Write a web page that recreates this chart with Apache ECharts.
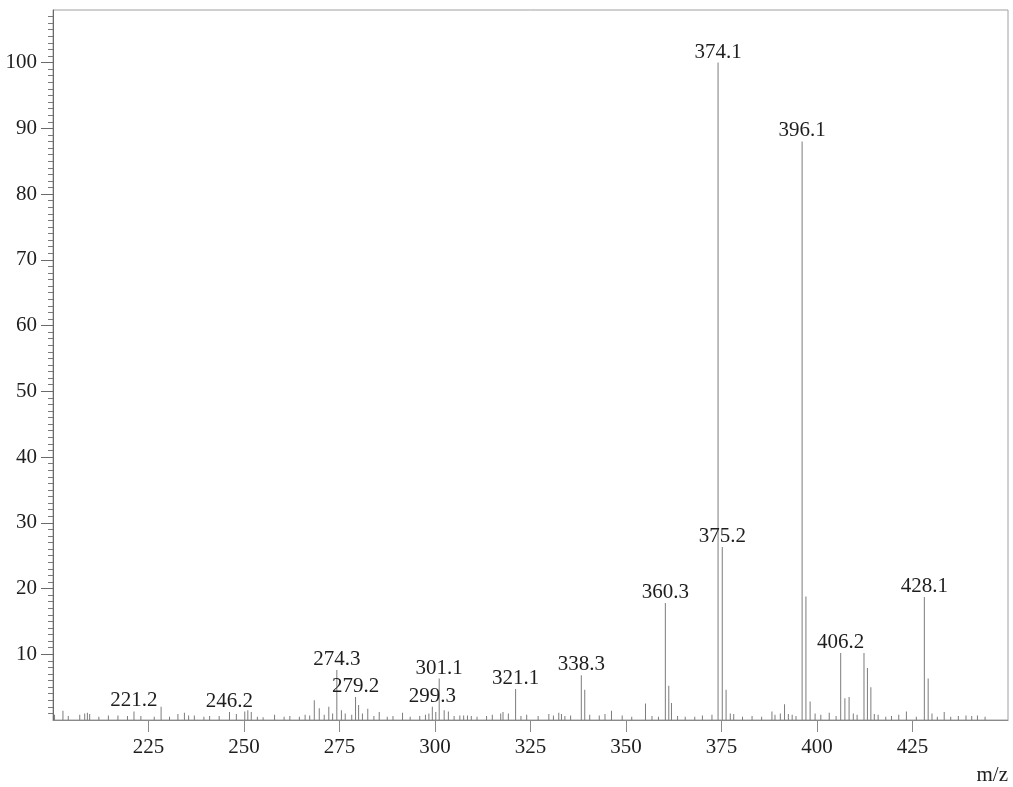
<!DOCTYPE html>
<html>
<head>
<meta charset="utf-8">
<title>Mass spectrum</title>
<script src="https://cdn.jsdelivr.net/npm/echarts@6/dist/echarts.min.js"></script>
<style>
  html, body { margin: 0; padding: 0; background: #ffffff; }
  #chart { width: 1013px; height: 787px; }
</style>
</head>
<body>
<div id="chart"></div>
<script>
// Peak positions (m/z) and relative intensities (%)
const mzValues = [
  200.4, 202.6, 204.0, 207.0, 208.3, 209.0, 209.6, 212.0, 214.5, 217.0,
  219.5, 221.2, 223.0, 226.5, 228.3, 230.5, 232.7, 234.4, 235.5, 237.0,
  239.5, 241.0, 243.5, 246.2, 248.0, 250.2, 251.0, 251.9, 253.5, 255.0,
  258.0, 260.5, 262.0, 264.5, 266.0, 267.2, 268.4, 269.7, 271.0, 272.2,
  273.2, 274.3, 275.5, 276.5, 278.2, 279.2, 280.0, 281.0, 282.4, 284.0,
  285.4, 287.5, 289.0, 291.5, 293.5, 296.0, 297.5, 298.4, 299.3, 300.2,
  301.1, 302.4, 303.5, 305.0, 306.5, 307.5, 308.5, 309.5, 311.0, 313.5,
  315.0, 317.2, 317.8, 319.2, 321.1, 322.5, 324.0, 327.0, 329.8, 331.0,
  332.4, 333.1, 334.0, 335.5, 338.3, 339.2, 340.5, 343.0, 344.5, 346.2,
  349.0, 351.5, 355.1, 356.8, 358.5, 360.3, 361.2, 361.9, 363.5, 365.5,
  368.0, 370.0, 372.5, 374.1, 375.2, 376.2, 377.3, 378.2, 380.5, 383.0,
  385.5, 388.2, 389.0, 390.4, 391.5, 392.5, 393.5, 394.5, 396.1, 397.1,
  398.2, 399.5, 401.0, 403.2, 405.0, 406.2, 407.3, 408.4, 409.5, 410.5,
  412.3, 413.2, 414.1, 415.0, 416.0, 418.0, 419.5, 421.4, 423.4, 426.0,
  428.1, 429.1, 430.1, 431.5, 433.3, 435.0, 437.0, 439.0, 440.5, 442.0,
  444.0
];
const intensities = [
  0.8, 1.4, 0.6, 0.8, 1.0, 1.1, 0.9, 0.5, 0.7, 0.7,
  0.6, 1.3, 0.6, 0.5, 2.0, 0.5, 0.9, 1.1, 0.7, 0.7,
  0.5, 0.6, 0.6, 1.2, 0.9, 1.3, 1.5, 1.2, 0.5, 0.4,
  0.8, 0.5, 0.6, 0.5, 0.8, 0.7, 3.0, 1.8, 0.8, 2.0,
  1.0, 7.6, 1.5, 1.0, 0.8, 3.5, 2.3, 1.0, 1.7, 0.6,
  1.2, 0.5, 0.6, 1.1, 0.5, 0.6, 0.8, 1.0, 2.0, 1.2,
  6.3, 1.5, 1.3, 0.6, 0.7, 0.7, 0.7, 0.6, 0.5, 0.6,
  0.8, 1.0, 1.2, 1.0, 4.7, 0.6, 0.8, 0.6, 0.9, 0.7,
  1.1, 0.9, 0.6, 0.7, 6.8, 4.6, 0.8, 0.7, 0.9, 1.4,
  0.7, 0.5, 2.5, 0.6, 0.5, 17.8, 5.2, 2.6, 0.6, 0.5,
  0.5, 0.7, 0.8, 100, 26.3, 4.6, 1.0, 0.9, 0.5, 0.6,
  0.5, 1.3, 0.8, 1.0, 2.4, 0.9, 0.8, 0.6, 88.0, 18.8,
  2.8, 1.0, 0.8, 1.1, 0.6, 10.2, 3.3, 3.5, 1.0, 0.8,
  10.2, 7.9, 5.0, 0.9, 0.8, 0.5, 0.6, 0.8, 1.3, 0.5,
  18.7, 6.3, 1.0, 0.5, 1.2, 0.5, 0.6, 0.7, 0.6, 0.7,
  0.5
];
// Peaks annotated with their m/z
const labeledPeaks = [221.2, 246.2, 274.3, 279.2, 299.3, 301.1, 321.1, 338.3,
                      360.3, 374.1, 375.2, 396.1, 406.2, 428.1];
// Axis tick values
const xTicks = [225, 250, 275, 300, 325, 350, 375, 400, 425];
const yTicks = [10, 20, 30, 40, 50, 60, 70, 80, 90, 100];

const yMinorTicks = [];
for (let v = 1; v < 108; v++) if (v % 10 !== 0) yMinorTicks.push(v);

const FONT = '"Liberation Serif", "DejaVu Serif", serif';
const TEXT = '#1e1e1e';

const peakData = mzValues.map((m, i) => {
  const item = { value: [m, intensities[i]] };
  if (labeledPeaks.indexOf(m) !== -1) {
    item.label = {
      show: true,
      position: 'top',
      distance: 0,
      formatter: m.toFixed(1),
      fontFamily: FONT,
      fontSize: 21,
      color: TEXT
    };
  }
  return item;
});

const chart = echarts.init(document.getElementById('chart'), null, { renderer: 'canvas' });
chart.setOption({
  animation: false,
  backgroundColor: '#ffffff',
  grid: {
    left: 53, right: 5, top: 10, bottom: 67,
    show: true, borderColor: '#a0a0a0', borderWidth: 1,
    containLabel: false, outerBoundsMode: 'none'
  },
  xAxis: {
    type: 'value',
    min: 200, max: 450,
    name: 'm/z',
    nameLocation: 'end',
    nameGap: 0,
    nameTextStyle: {
      fontFamily: FONT, fontSize: 21, color: TEXT,
      align: 'right', verticalAlign: 'top', padding: [45, 0, 0, 0]
    },
    axisLine: { show: true, onZero: false, lineStyle: { color: '#8a8a8a', width: 1 } },
    axisTick: { show: true, customValues: xTicks, length: 12, lineStyle: { color: '#8a8a8a' } },
    axisLabel: { customValues: xTicks, margin: 17, fontFamily: FONT, fontSize: 21, color: TEXT },
    splitLine: { show: false }
  },
  yAxis: [
    {
      type: 'value',
      min: 0, max: 108,
      position: 'left',
      axisLine: { show: true, onZero: false, lineStyle: { color: '#6a6a6a', width: 1 } },
      axisTick: { show: true, customValues: yTicks, length: 12, lineStyle: { color: '#6a6a6a' } },
      axisLabel: { customValues: yTicks, margin: 16, fontFamily: FONT, fontSize: 21, color: TEXT },
      splitLine: { show: false }
    },
    {
      type: 'value',
      min: 0, max: 108,
      position: 'left',
      axisLine: { show: false },
      axisTick: { show: true, customValues: yMinorTicks, length: 5, lineStyle: { color: '#7a7a7a' } },
      axisLabel: { show: false },
      splitLine: { show: false }
    }
  ],
  series: [{
    type: 'bar',
    xAxisIndex: 0,
    yAxisIndex: 0,
    barWidth: 1,
    itemStyle: { color: '#7c7c7c' },
    label: { show: false },
    emphasis: { disabled: true },
    data: peakData
  }]
});
</script>
</body>
</html>
